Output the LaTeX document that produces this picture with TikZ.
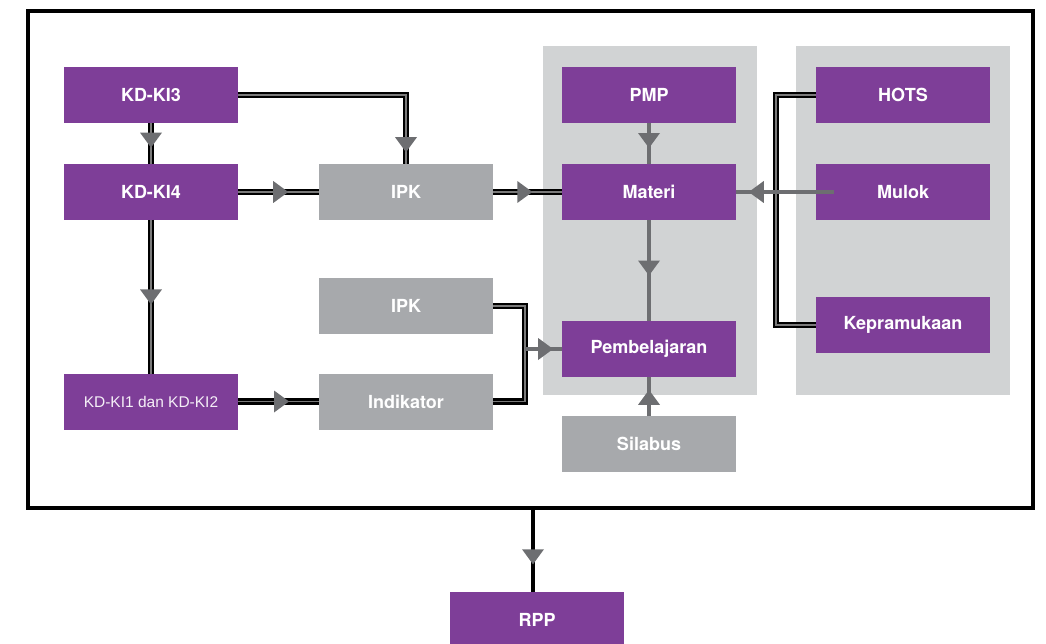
\documentclass[tikz,border=0pt]{standalone}
\usepackage{fontspec}
\setmainfont{TeX Gyre Heros}
\newfontfamily\lightsans{Liberation Sans}
\usetikzlibrary{decorations.markings}
\definecolor{boxpurple}{HTML}{7E3E98}
\definecolor{boxgray}{HTML}{A7A9AC}
\definecolor{panelgray}{HTML}{D1D3D4}
\definecolor{arrowgray}{HTML}{6D6E71}
\definecolor{midgray}{HTML}{7A7A7A}
\tikzset{
  x=1pt, y=-1pt,
  card/.style={minimum width=174pt, minimum height=56pt, inner sep=0pt, outer sep=0pt,
    text=white, font=\fontsize{18}{20}\selectfont\bfseries},
  pbox/.style={card, fill=boxpurple},
  gbox/.style={card, fill=boxgray},
  arrowat/.style={postaction={decorate, decoration={markings,
    mark=at position #1 with {\fill[arrowgray] (0pt,0pt) -- (-15pt,11pt) -- (-15pt,-11pt) -- cycle;}}}},
  dbl/.style={draw=midgray, line width=1.4pt, line join=miter,
    preaction={draw=black, line width=6.5pt, line join=miter}},
  gline/.style={draw=arrowgray, line width=4.5pt},
  bline/.style={draw=black, line width=4pt},
}
\begin{document}
\begin{tikzpicture}
\useasboundingbox (0,0) rectangle (1046,644);
\clip (0,0) rectangle (1046,644);

% shaded groups
\fill[panelgray] (543,46) rectangle (757,395);
\fill[panelgray] (796,46) rectangle (1010,395);

% outer frame
\node[draw=black, line width=4pt, minimum width=1005pt, minimum height=497pt,
      inner sep=0pt, outer sep=0pt] (frame) at (530.5,259.5) {};

% left column
\node[pbox] (kd3) at (151,95) {KD-KI3};
\node[pbox] (kd4) at (151,192) {KD-KI4};
\node[pbox, font=\lightsans\fontsize{15.5}{18}\selectfont, text=white!92!boxpurple] (kd12) at (151,401.5) {KD-KI1 dan KD-KI2};

% middle column
\node[gbox] (ipka) at (406,192) {IPK};
\node[gbox] (ipkb) at (406,306) {IPK};
\node[gbox] (indik) at (406,401.5) {Indikator};

% content column
\node[pbox] (pmp) at (649,95) {PMP};
\node[pbox] (materi) at (649,192) {Materi};
\node[pbox] (pemb) at (649,349) {Pembelajaran};
\node[gbox] (silabus) at (649,444) {Silabus};

% right column
\node[pbox] (hots) at (903,95) {HOTS};
\node[pbox] (mulok) at (903,192) {Mulok};
\node[pbox] (kepr) at (903,325) {Kepramukaan};

% output
\node[pbox] (rpp) at (537,620) {RPP};

% double connectors
\draw[dbl, arrowat=0.95] (kd3.east) -| (ipka.north);
\draw[dbl, arrowat=0.6] (kd3.south) -- (kd4.north);
\draw[dbl, arrowat=0.62] (kd4.east) -- (ipka.west);
\draw[dbl, arrowat=0.55] (kd4.south) -- (kd12.north);
\draw[dbl, arrowat=0.63] (kd12.east) -- (indik.west);
\draw[dbl, arrowat=0.57] (ipka.east) -- (materi.west);
\draw[dbl] (ipkb.east) -- ++(32,0) coordinate (brk) |- (indik.east);
\draw[dbl] (hots.west) -- ++(-40,0) |- (kepr.west);

% gray connectors
\coordinate (merge) at (brk |- pemb.west);
\draw[gline, arrowat=0.76] (merge) -- (pemb.west);
\draw[gline, arrowat=0.61] (pmp.south) -- (materi.north);
\draw[gline, arrowat=0.55] (materi.south) -- (pemb.north);
\draw[gline, arrowat=0.67] (silabus.north) -- (pemb.south);
\draw[gline, arrowat=0.87] ([xshift=18pt]mulok.west) -- (materi.east);

% frame to RPP
\draw[bline, arrowat=0.67] ([xshift=2.5pt]frame.south) -- ([xshift=-4pt]rpp.north);
\end{tikzpicture}
\end{document}
